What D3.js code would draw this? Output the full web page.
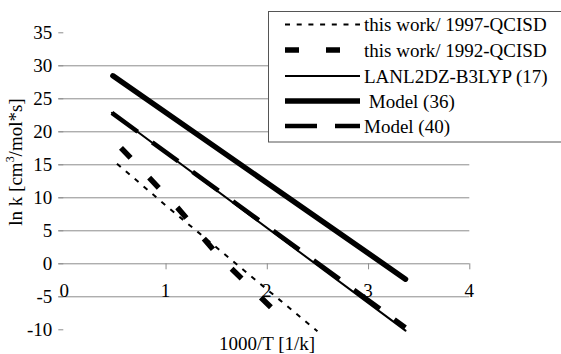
<!DOCTYPE html>
<html>
<head>
<meta charset="utf-8">
<script src="https://cdn.jsdelivr.net/npm/d3@7"></script>
<style>
  body { margin: 0; background: #fff; }
  svg { display: block; font-family: "Liberation Serif", "Times New Roman", serif; }
</style>
</head>
<body>
<div id="chart"></div>
<script>
// values (x = 1000/T, y = ln k)
const yTicks = [35, 30, 25, 20, 15, 10, 5, 0, -5, -10];
const yGrid = [30, 25, 20, 15, 10, 5, 0, -5];
const xTicks = [0, 1, 2, 3, 4];

const seriesNames = ['this work/ 1997-QCISD', 'this work/ 1992-QCISD', 'LANL2DZ-B3LYP (17)', ' Model (36)', 'Model (40)'];
const x1997 = [0.52, 1.0, 2.5];
const y1997 = [15.1, 8.8, -10.3];
const x1992 = [0.56, 1.12, 1.53, 2.17];
const y1992 = [17.5, 8.4, 1.0, -8.6];
const xLanl = [0.47, 3.37];
const yLanl = [22.8, -10.2];
const xModel36 = [0.48, 3.37];
const yModel36 = [28.4, -2.4];
const xModel40 = [0.47, 3.37];
const yModel40 = [22.8, -9.7];

const styles = [
  { width: 2, dash: '5,6.7', cap: 'butt' },
  { width: 5.5, dash: '14,27', cap: 'butt' },
  { width: 2, dash: null, cap: 'round' },
  { width: 5.5, dash: null, cap: 'round' },
  { width: 4.5, dash: '32,18', cap: 'butt' }
];

const width = 561, height = 354;
const svg = d3.select('#chart').append('svg')
  .attr('width', width)
  .attr('height', height);

const x = d3.scaleLinear().domain([0, 4]).range([64.3, 469.3]);
const y = d3.scaleLinear().domain([-10, 35]).range([329.3, 32.3]);

// gridlines
svg.selectAll('.grid')
  .data(yGrid)
  .enter().append('line')
  .attr('x1', x(0) - 6).attr('x2', x(4))
  .attr('y1', d => y(d) + 0.5).attr('y2', d => y(d) + 0.5)
  .attr('stroke', '#8c8c8c').attr('stroke-width', 1);

// y ticks + labels
svg.selectAll('.ytick')
  .data(yTicks)
  .enter().append('line')
  .attr('x1', x(0) - 6).attr('x2', x(0) - 1)
  .attr('y1', d => y(d) + 0.5).attr('y2', d => y(d) + 0.5)
  .attr('stroke', '#8c8c8c');

svg.selectAll('.ylab')
  .data(yTicks)
  .enter().append('text')
  .attr('x', x(0) - 12)
  .attr('y', d => y(d) + 6.5)
  .attr('text-anchor', 'end')
  .attr('font-size', 19)
  .text(d => d);

// x ticks + labels (axis crosses at 0)
svg.selectAll('.xtick')
  .data(xTicks.filter(d => d > 0))
  .enter().append('line')
  .attr('x1', d => x(d) + 0.5).attr('x2', d => x(d) + 0.5)
  .attr('y1', y(0)).attr('y2', y(0) + 6)
  .attr('stroke', '#8c8c8c');

svg.selectAll('.xlab')
  .data(xTicks)
  .enter().append('text')
  .attr('x', d => x(d))
  .attr('y', y(0) + 34)
  .attr('text-anchor', 'middle')
  .attr('font-size', 19)
  .text(d => d);

// axis titles
svg.append('text')
  .attr('x', 267)
  .attr('y', 350)
  .attr('text-anchor', 'middle')
  .attr('font-size', 19)
  .text('1000/T [1/k]');

const yt = svg.append('text')
  .attr('transform', 'translate(22,162) rotate(-90)')
  .attr('text-anchor', 'middle')
  .attr('font-size', 19);
yt.append('tspan').text('ln k [cm');
yt.append('tspan').attr('dy', -8).attr('font-size', 12).text('3');
yt.append('tspan').attr('dy', 8).text('/mol*s]');

// series
const allX = [x1997, x1992, xLanl, xModel36, xModel40];
const allY = [y1997, y1992, yLanl, yModel36, yModel40];
const line = d3.line().x(d => x(d[0])).y(d => y(d[1]));

allX.forEach((xs, i) => {
  const pts = xs.map((v, j) => [v, allY[i][j]]);
  const s = styles[i];
  svg.append('path')
    .datum(pts)
    .attr('d', line)
    .attr('fill', 'none')
    .attr('stroke', '#000')
    .attr('stroke-width', s.width)
    .attr('stroke-linecap', s.cap)
    .attr('stroke-dasharray', s.dash);
});

// legend
const legend = svg.append('g');
legend.append('rect')
  .attr('x', 268.5).attr('y', 11.5)
  .attr('width', 300).attr('height', 130.5)
  .attr('fill', '#fff')
  .attr('stroke', '#555');

const rowY = [24.5, 50, 76, 101, 126];
seriesNames.forEach((name, i) => {
  const s = styles[i];
  legend.append('line')
    .attr('x1', 285).attr('x2', 360)
    .attr('y1', rowY[i]).attr('y2', rowY[i])
    .attr('stroke', '#000')
    .attr('stroke-width', s.width)
    .attr('stroke-dasharray', s.dash);
  legend.append('text')
    .attr('x', 364)
    .attr('y', rowY[i] + 6.5)
    .attr('font-size', 19)
    .attr('xml:space', 'preserve')
    .style('white-space', 'pre')
    .text(name);
});
</script>
</body>
</html>
